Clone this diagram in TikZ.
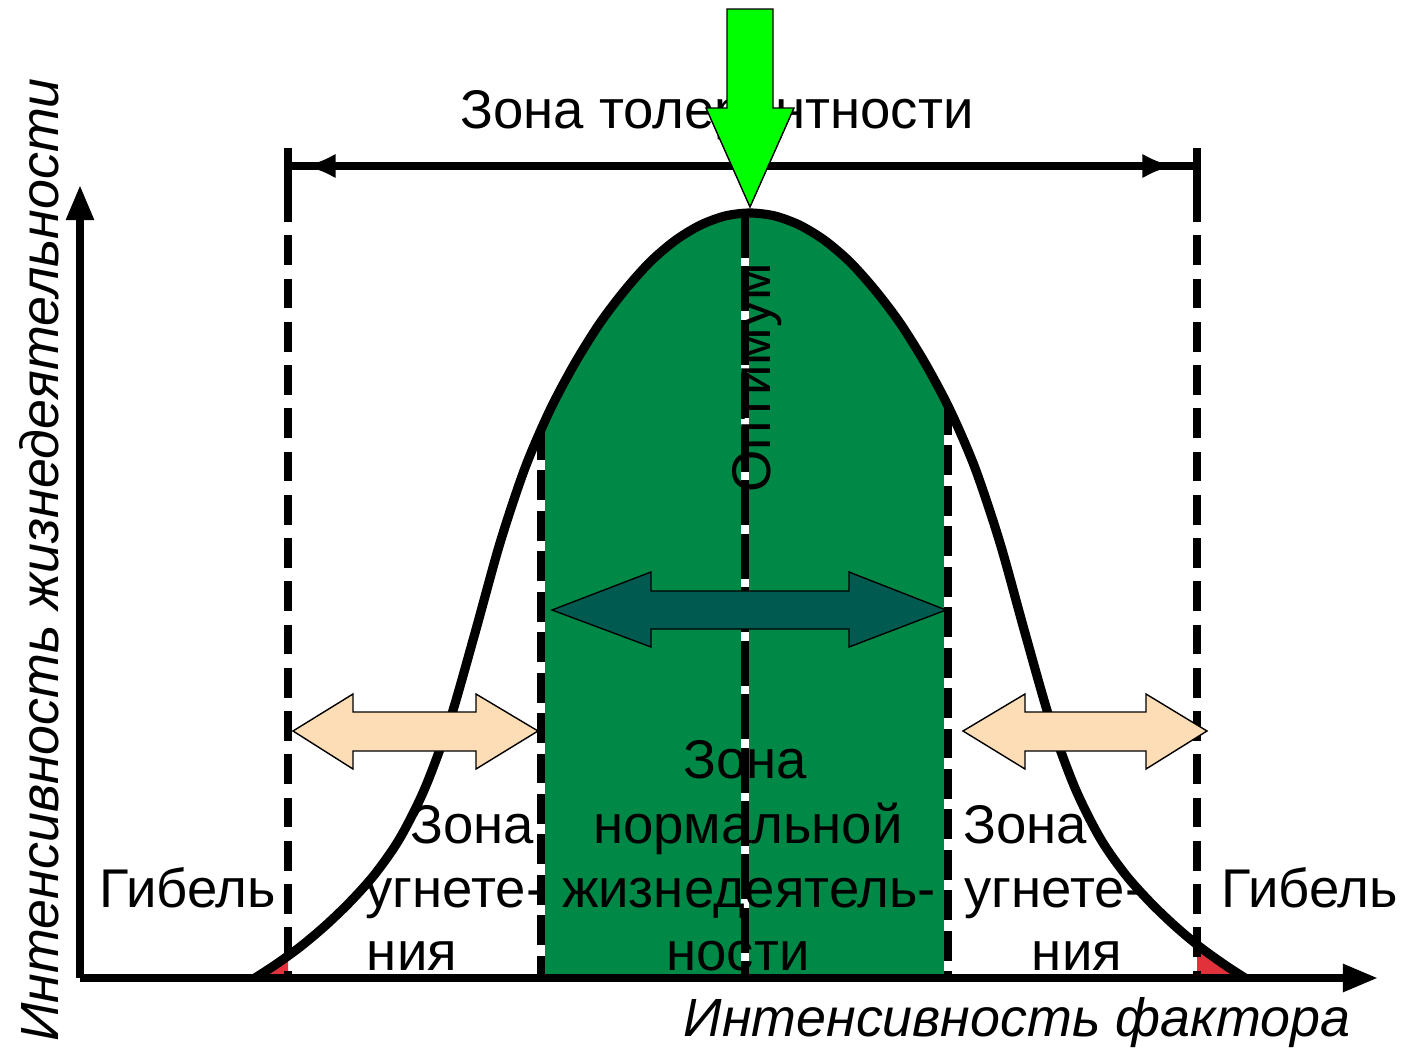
\documentclass[tikz,border=0pt]{standalone}
\usepackage{fontspec}
\setmainfont{Liberation Sans}
\usetikzlibrary{arrows.meta}
\definecolor{zonegreen}{RGB}{0,136,70}
\definecolor{darkteal}{RGB}{0,90,80}
\definecolor{peach}{RGB}{253,221,182}
\definecolor{brightgreen}{RGB}{0,255,0}
\definecolor{deathred}{RGB}{225,50,60}
\begin{document}
\begin{tikzpicture}[x=0.01cm,y=-0.01cm,
  txt/.style={font=\fontsize{15.5}{18}\selectfont, inner sep=0pt, anchor=base},
  axlbl/.style={font=\fontsize{15.3}{18}\selectfont\itshape, inner sep=0pt, anchor=base},
  bound/.style={line width=2pt, dash pattern=on 8.5pt off 3.8pt},
  innerdash/.style={line width=2pt, dash pattern=on 8.5pt off 3pt},
  middash/.style={line width=2pt, dash pattern=on 12.8pt off 2.4pt},
  whiteline/.style={line width=2pt, white},
  curve/.style={line width=2.6pt, line join=round},
  axis/.style={line width=2.2pt, -{Triangle[length=10pt,width=7.5pt]}},
  tol/.style={line width=2pt},
  tolhead/.style={line width=2pt, -{Latex[length=9pt,width=7pt]}},
  bigarrow/.style={draw=black, line width=0.4pt, line join=miter}
]
\useasboundingbox (0,0) rectangle (1408,1051);

% bell curve path
\path[save path=\bellcurve] plot[smooth] coordinates {
  (255,978) (275,965) (300,947) (325,926) (350,902) (375,874) (400,838)
  (425,788) (450,720) (475,633) (500,543) (525,468) (550,410) (575,363)
  (600,323) (625,290) (650,262) (675,240.6) (700,225.3) (725,216) (750,213)
  (775,216) (800,225.3) (825,240.6) (850,262) (875,290) (900,323) (925,363)
  (950,410) (975,468) (1000,543) (1025,633) (1050,720) (1075,788) (1100,838)
  (1125,874) (1150,902) (1175,926) (1200,947) (1225,965) (1245,978)};

% green zone of normal activity
\begin{scope}
  \clip (541,0) rectangle (948,978);
  \fill[zonegreen, use path=\bellcurve];
\end{scope}

% red death corners
\begin{scope}
  \clip (0,0) rectangle (288,978);
  \fill[deathred, use path=\bellcurve];
\end{scope}
\begin{scope}
  \clip (1197,0) rectangle (1408,978);
  \fill[deathred, use path=\bellcurve];
\end{scope}

% coordinates
\coordinate (tlTop) at (288,148);
\coordinate (tlBar) at (288,192);
\coordinate (tlBot) at (288,978);
\coordinate (trTop) at (1197,148);
\coordinate (trBar) at (1197,192);
\coordinate (trBot) at (1197,978);
\coordinate (nlTop) at (541,430);
\coordinate (nlBot) at (541,978);
\coordinate (nrTop) at (948,405);
\coordinate (nrBot) at (948,978);
\coordinate (mTop) at (745,213);
\coordinate (mBot) at (745,978);

% dashed boundary lines
\draw[line width=2pt] (tlTop) -- (tlBar);
\draw[line width=2pt] (trTop) -- (trBar);
\draw[bound] (tlBar) -- (tlBot);
\draw[bound] (trBar) -- (trBot);
\draw[whiteline] (nlTop) -- (nlBot);
\draw[innerdash] (nlTop) -- (nlBot);
\draw[whiteline] (nrTop) -- (nrBot);
\draw[innerdash] (nrTop) -- (nrBot);
\draw[whiteline] (mTop) -- (mBot);
\draw[middash] (mTop) -- (mBot);

% bell curve
\draw[curve, use path=\bellcurve];

% axes
\coordinate (origin) at (80,978);
\coordinate (xEnd) at (1378,978);
\coordinate (yEnd) at (80,185);
\draw[axis] (origin) -- (xEnd);
\draw[axis] (origin) -- (yEnd);

% tolerance arrow
\coordinate (tolL) at (288,166);
\coordinate (tolR) at (1197,166);
\coordinate (tolLh) at (338,166);
\coordinate (tolLt) at (304,166);
\coordinate (tolRh) at (1139,166);
\coordinate (tolRt) at (1174,166);
\draw[tol] (tolL) -- (tolR);
\draw[tolhead] (tolLh) -- (tolLt);
\draw[tolhead] (tolRh) -- (tolRt);

% texts
\node[txt] (tolText) at (717,128) {Зона толерантности};
\node[txt, rotate=90] (optText) at (770,378) {Оптимум};

\node[txt] (gibL) at (188,907) {Гибель};
\node[txt] (gibR) at (1310,907) {Гибель};

\node[txt] (zl1) at (472,843) {Зона};
\node[txt] (zl2) at (455,907) {угнете-};
\node[txt] (zl3) at (412,970) {ния};

\node[txt] (zr1) at (1025,843) {Зона};
\node[txt] (zr2) at (1054,907) {угнете-};
\node[txt] (zr3) at (1077,970) {ния};

\node[txt] (zc1) at (745,778) {Зона};
\node[txt] (zc2) at (748,843) {нормальной};
\node[txt] (zc3) at (749,907) {жизнедеятель-};
\node[txt] (zc4) at (738,970) {ности};

\node[axlbl, rotate=90] (yLabel) at (58,560) {Интенсивность жизнедеятельности};
\node[axlbl] (xLabel) at (1017,1036) {Интенсивность фактора};

% double arrows
\filldraw[bigarrow, fill=darkteal] (552,610) -- (651,572) -- (651,591) -- (849,591) -- (849,572) -- (946,610) -- (849,647) -- (849,629) -- (651,629) -- (651,647) -- cycle;
\filldraw[bigarrow, fill=peach] (293,731) -- (353,694) -- (353,712) -- (476,712) -- (476,694) -- (538,731) -- (476,769) -- (476,751) -- (353,751) -- (353,769) -- cycle;
\filldraw[bigarrow, fill=peach] (963,731) -- (1025,694) -- (1025,712) -- (1146,712) -- (1146,694) -- (1207,731) -- (1146,769) -- (1146,751) -- (1025,751) -- (1025,769) -- cycle;

% optimum arrow
\filldraw[bigarrow, fill=brightgreen] (727,9) -- (773,9) -- (773,108) -- (794,108) -- (750,207) -- (706,108) -- (727,108) -- cycle;
\end{tikzpicture}
\end{document}
